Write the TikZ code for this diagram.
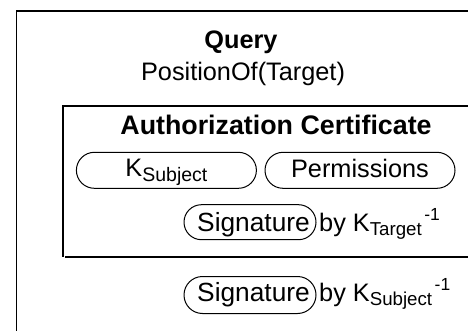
\documentclass[tikz,border=0pt]{standalone}
\usepackage{fontspec}
\setmainfont{Liberation Sans}
\usetikzlibrary{shapes.misc}
\newcommand{\mysub}[1]{\raisebox{-4.5pt}{\fontsize{19.5}{20}\selectfont #1}}
\newcommand{\mysubs}[1]{\raisebox{-4.5pt}{\fontsize{18.7}{20}\selectfont #1}}
\newcommand{\mysup}[1]{\hspace{2.5pt}\raisebox{10.5pt}{\fontsize{17.5}{20}\selectfont #1}}
\begin{document}
\begin{tikzpicture}[x=1pt,y=-1pt,
  lbl/.style={font=\fontsize{25.3}{30}\selectfont, inner sep=0pt},
  ttl/.style={font=\fontsize{25.3}{30}\selectfont\bfseries, inner sep=0pt},
  pill/.style={draw, line width=1pt, rounded rectangle, inner sep=0pt,
    text depth=0pt, font=\fontsize{25.3}{30}\selectfont},
  sigpill/.style={pill, font=\fontsize{26.3}{30}\selectfont},
  frame/.style={line width=1.2pt},
  shadowline/.style={line width=2.4pt}]
\useasboundingbox (0,0) rectangle (468,331);
\clip (0,0) rectangle (468,331);
\fill[white] (0,0) rectangle (468,331);
% outer frame
\coordinate (o1) at (16.5,340);
\coordinate (o2) at (16.5,11);
\coordinate (o3) at (480,11);
\draw[frame] (o1) -- (o2) -- (o3);
% inner frame
\coordinate (i1) at (63,256.5);
\coordinate (i2) at (63,106);
\coordinate (i3) at (480,106);
\coordinate (i4) at (65,257);
\coordinate (i5) at (480,257);
\draw[frame] (i1) -- (i2) -- (i3);
\draw[shadowline] (i4) -- (i5);
% texts
\node[ttl, anchor=base] (query) at (241,49) {Query};
\node[lbl, anchor=base] (pos) at (243,81) {PositionOf(Target)};
\node[ttl, font=\fontsize{26.8}{30}\selectfont\bfseries, anchor=base] (auth) at (276,135) {Authorization Certificate};
\node[pill, minimum width=180, minimum height=36, text height=13.4pt] (ks) at (166.4,170.3) {K\mysub{Subject}};
\node[pill, minimum width=190, minimum height=36, text height=14.4pt] (perm) at (360,170.3) {Permissions};
\node[sigpill, minimum width=132, minimum height=35, text height=18.2pt] (sig1) at (250,222.2) {\hspace*{7pt}Signature};
\node[lbl, anchor=base west] (by1) at (319,231.4) {by K\mysubs{Target}\mysup{-1}};
\node[sigpill, minimum width=132, minimum height=37, text height=12pt] (sig2) at (250,295) {\hspace*{7pt}Signature};
\node[lbl, anchor=base west] (by2) at (319,301) {by K\mysubs{Subject}\mysup{-1}};
\end{tikzpicture}
\end{document}
